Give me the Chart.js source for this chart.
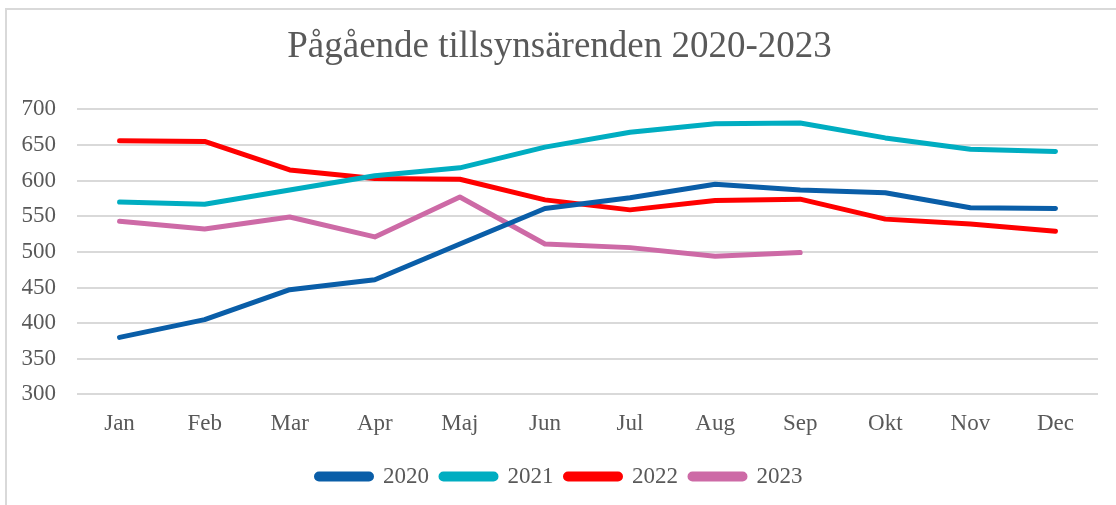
<!DOCTYPE html>
<html>
<head>
<meta charset="utf-8">
<script src="https://cdn.jsdelivr.net/npm/chart.js@4/dist/chart.umd.min.js"></script>
<style>
  body { margin: 0; background: #fff; }
  #frame {
    position: absolute; left: 5px; top: 8px; width: 1130px; height: 520px;
    border-left: 2px solid #d9d9d9; border-top: 2px solid #d9d9d9;
  }
  #wrap { position: absolute; left: 0; top: 0; width: 1116px; height: 505px; }
</style>
</head>
<body>
<div id="frame"></div>
<div id="wrap"><canvas id="chart" width="1116" height="505"></canvas></div>
<script>
// Months on the x axis
const months = ['Jan', 'Feb', 'Mar', 'Apr', 'Maj', 'Jun', 'Jul', 'Aug', 'Sep', 'Okt', 'Nov', 'Dec'];

// Ongoing cases per year
const data2020 = [380, 405, 447, 461, 511, 561, 576, 595, 587, 583, 562, 561];
const data2021 = [570, 567, 587, 607, 618, 647, 668, 680, 681, 660, 644, 641];
const data2022 = [656, 655, 615, 603, 602, 573, 559, 572, 574, 546, 539, 529];
const data2023 = [543, 532, 549, 521, 577, 511, 506, 494, 499];

const textColor = '#595959';
const serif = "'Liberation Serif', 'Times New Roman', serif";

function series(label, values, color) {
  return {
    label: label,
    data: values,
    borderColor: color,
    backgroundColor: color,
    borderWidth: 5,
    borderCapStyle: 'round',
    borderJoinStyle: 'round',
    pointRadius: 0,
    pointHoverRadius: 0,
    tension: 0,
    fill: false
  };
}

new Chart(document.getElementById('chart'), {
  type: 'line',
  data: {
    labels: months,
    datasets: [
      series('2020', data2020, '#0a5ea8'),
      series('2021', data2021, '#00adc1'),
      series('2022', data2022, '#ff0000'),
      series('2023', data2023, '#cd6aa6')
    ]
  },
  options: {
    responsive: false,
    animation: false,
    layout: {
      padding: { left: 21, right: 18, top: 12, bottom: 7 }
    },
    scales: {
      x: {
        offset: true,
        grid: { display: false, drawTicks: false },
        border: { display: false },
        ticks: {
          color: textColor,
          padding: 15.5,
          font: { family: serif, size: 23 },
          maxRotation: 0
        }
      },
      y: {
        min: 300,
        max: 700,
        grid: { color: '#d9d9d9', lineWidth: 2, drawTicks: false },
        border: { display: false },
        ticks: {
          stepSize: 50,
          color: textColor,
          padding: 21,
          font: { family: serif, size: 23 }
        },
        // fixed axis width so the plot starts where the reference does
        afterFit: (scale) => { scale.width = 56; }
      }
    },
    plugins: {
      title: {
        display: true,
        text: 'Pågående tillsynsärenden 2020-2023',
        color: textColor,
        font: { family: serif, size: 37, weight: 'normal' },
        padding: { top: 13, bottom: 40 }
      },
      legend: {
        position: 'bottom',
        labels: {
          color: textColor,
          font: { family: serif, size: 23 },
          boxWidth: 55,
          boxHeight: 5,
          useBorderRadius: true,
          borderRadius: 2.5,
          padding: 12
        }
      },
      tooltip: { enabled: false }
    }
  }
});
</script>
</body>
</html>
